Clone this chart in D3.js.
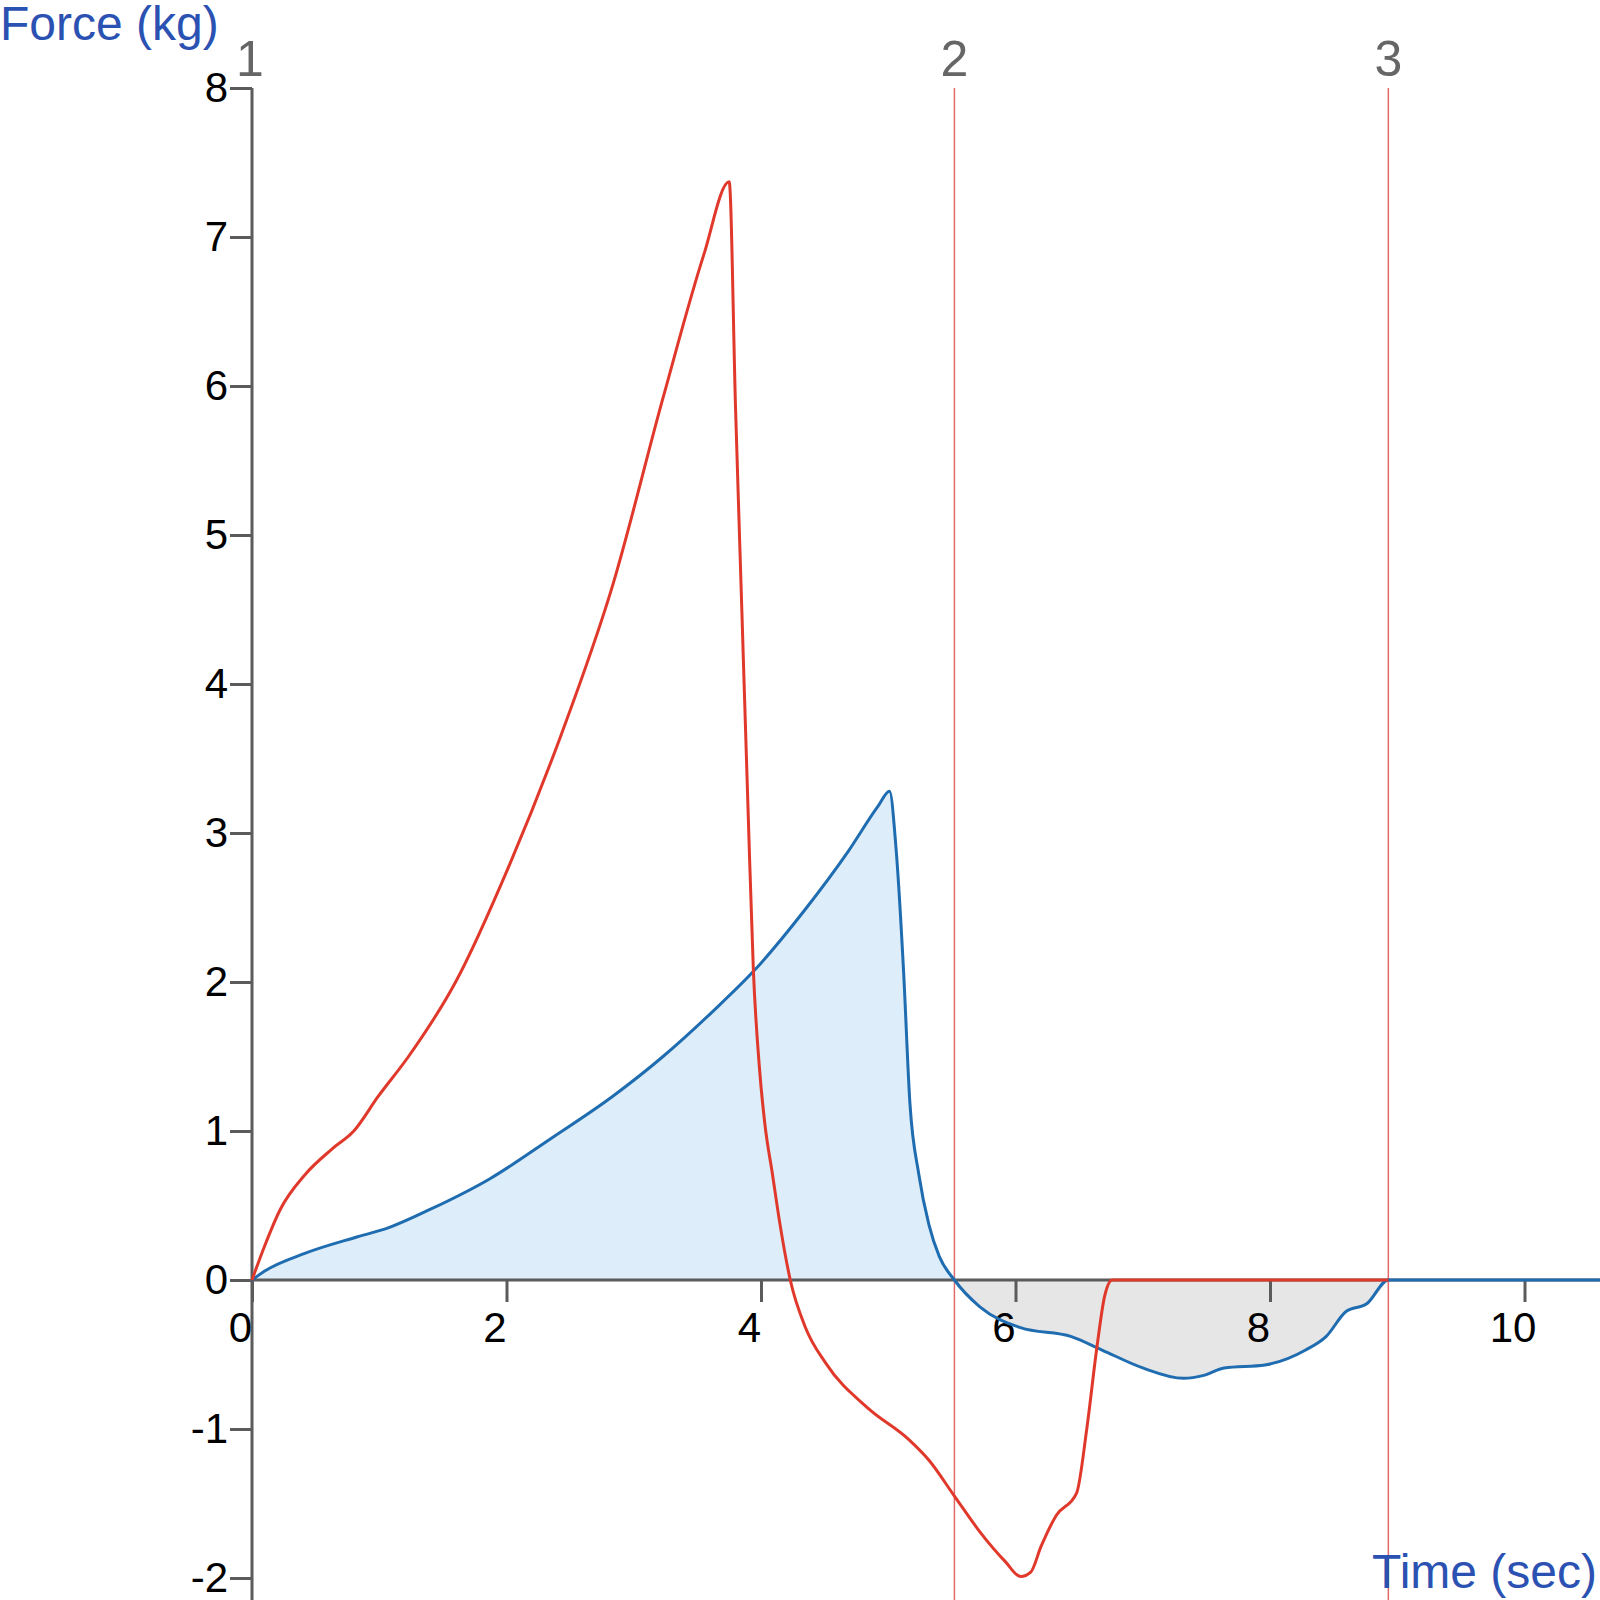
<!DOCTYPE html>
<html>
<head>
<meta charset="utf-8">
<script src="https://cdn.jsdelivr.net/npm/d3@7"></script>
<style>
  body { margin: 0; background: #fff; }
  text { font-family: "Liberation Sans", Arial, sans-serif; }
</style>
</head>
<body>
<div id="chart"></div>
<script>
// Data --------------------------------------------------------
var redTime  = [0, 0.1, 0.22, 0.42, 0.63, 0.8, 0.99, 1.23, 1.6, 2.03, 2.43, 2.83, 3.23, 3.55, 3.75,
                3.8, 3.85, 3.9, 3.94, 3.99, 4.03, 4.09, 4.15, 4.23, 4.35, 4.51, 4.84, 5.16, 5.32, 5.52, 5.72, 5.92, 6.04,
                6.12, 6.2, 6.32, 6.48, 6.56, 6.64, 6.7, 6.76, 8.93];
var redForce = [0, 0.23, 0.47, 0.71, 0.88, 1.0, 1.23, 1.5, 2.0, 2.8, 3.66, 4.65, 5.92, 6.88, 7.37,
                5.85, 4.48, 3.11, 2.08, 1.4, 1.05, 0.71, 0.37, 0, -0.32, -0.56, -0.86, -1.07, -1.21, -1.45, -1.69, -1.89, -1.99,
                -1.96, -1.79, -1.58, -1.43, -1.0, -0.45, -0.11, 0, 0];

var blueTime  = [0, 0.1, 0.42, 0.83, 1.07, 1.39, 1.87, 2.35, 2.83, 3.23, 3.63, 3.95, 4.35, 4.68, 4.92, 5.01,
                 5.06, 5.12, 5.17, 5.24, 5.32, 5.4, 5.52, 5.72, 6.04, 6.44, 6.68, 7.0, 7.32, 7.48, 7.64,
                 7.96, 8.28, 8.44, 8.6, 8.76, 8.93, 10.6];
var blueForce = [0, 0.06, 0.18, 0.29, 0.35, 0.47, 0.68, 0.95, 1.23, 1.5, 1.81, 2.08, 2.49, 2.87, 3.18, 3.28,
                 2.91, 2.08, 1.19, 0.71, 0.37, 0.16, 0, -0.18, -0.32, -0.38, -0.47, -0.59, -0.66, -0.64, -0.59,
                 -0.57, -0.47, -0.38, -0.21, -0.16, 0, 0];

var xTicks = [0, 2, 4, 6, 8, 10];
var yTicks = [-2, -1, 0, 1, 2, 3, 4, 5, 6, 7, 8];
var markerTimes  = [0, 5.52, 8.93];
var markerLabels = ["1", "2", "3"];

// Layout ------------------------------------------------------
var W = 1600, H = 1600;
var x0 = 252;
var x = d3.scaleLinear().domain([0, 10]).range([x0, x0 + 1272.5]);
var y = d3.scaleLinear().domain([-2, 8]).range([1578, 88]);
var xMax = x.invert(W);
var tickFont = "'Liberation Sans Narrow', 'Arial Narrow', 'Liberation Sans', sans-serif";

var svg = d3.select("#chart").append("svg")
    .attr("width", W).attr("height", H);

var redData = redTime.map((t, i) => ({t: t, v: redForce[i]}));
var blueData = blueTime.map((t, i) => ({t: t, v: blueForce[i]}));
blueData[blueData.length - 1].t = xMax;   // flat tail runs to the right edge

// fills under the blue curve
var area = d3.area()
    .x(d => x(d.t)).y0(y(0)).y1(d => y(d.v))
    .curve(d3.curveMonotoneX);

svg.append("path")
    .datum(blueData.filter(d => d.t <= markerTimes[1]))
    .attr("fill", "#ddedf9")
    .attr("d", area);

svg.append("path")
    .datum(blueData.filter(d => d.t >= markerTimes[1] && d.t <= markerTimes[2]))
    .attr("fill", "#e6e6e6")
    .attr("d", area);

// Axes --------------------------------------------------------
var axisColor = "#5b5b5b";

var yAxis = svg.append("g")
    .attr("transform", `translate(${x0},0)`)
    .call(d3.axisLeft(y).tickValues(yTicks).tickSize(22).tickPadding(2).tickFormat(d => String(d)));
yAxis.select(".domain").remove();
yAxis.append("line")
    .attr("x1", 0).attr("x2", 0).attr("y1", y(8)).attr("y2", H)
    .attr("stroke", axisColor).attr("stroke-width", 3);
yAxis.selectAll(".tick line").attr("stroke", axisColor).attr("stroke-width", 3);
yAxis.selectAll(".tick text")
    .attr("fill", "#000").attr("font-size", 42)
    .attr("font-family", tickFont);

var xAxis = svg.append("g")
    .attr("transform", `translate(0,${y(0)})`)
    .call(d3.axisBottom(x).tickValues(xTicks).tickSize(22).tickPadding(0).tickFormat(d => String(d)));
xAxis.select(".domain").remove();
xAxis.append("line")
    .attr("x1", x0).attr("x2", W).attr("y1", 0).attr("y2", 0)
    .attr("stroke", axisColor).attr("stroke-width", 3);
xAxis.selectAll(".tick line").attr("stroke", axisColor).attr("stroke-width", 3);
xAxis.selectAll(".tick text")
    .attr("fill", "#000").attr("font-size", 42)
    .attr("font-family", tickFont)
    .attr("dx", -12).attr("dy", 0).attr("y", 62);

// Phase markers -----------------------------------------------
markerTimes.forEach((t, i) => {
    if (i > 0) {
        svg.append("line")
            .attr("x1", x(t)).attr("x2", x(t))
            .attr("y1", y(8)).attr("y2", H)
            .attr("stroke", "#e06a6a").attr("stroke-width", 1.5);
    }
    svg.append("text")
        .attr("x", x(t) + (i == 0 ? -2 : 0)).attr("y", 76)
        .attr("text-anchor", "middle")
        .attr("font-size", 50)
        .attr("fill", "#666")
        .text(markerLabels[i]);
});

// Curves ------------------------------------------------------
var line = d3.line()
    .x(d => x(d.t)).y(d => y(d.v))
    .curve(d3.curveMonotoneX);

svg.append("path")
    .datum(blueData)
    .attr("fill", "none")
    .attr("stroke", "#1f6db0")
    .attr("stroke-width", 3)
    .attr("d", line);

svg.append("path")
    .datum(redData)
    .attr("fill", "none")
    .attr("stroke", "#e0392b")
    .attr("stroke-width", 3)
    .attr("d", line);

// Titles ------------------------------------------------------
svg.append("text")
    .attr("x", 0).attr("y", 40)
    .attr("font-size", 48)
    .attr("fill", "#2b52b2")
    .text("Force (kg)");

svg.append("text")
    .attr("x", W - 3).attr("y", 1588)
    .attr("text-anchor", "end")
    .attr("font-size", 48)
    .attr("fill", "#2b52b2")
    .text("Time (sec)");
</script>
</body>
</html>
